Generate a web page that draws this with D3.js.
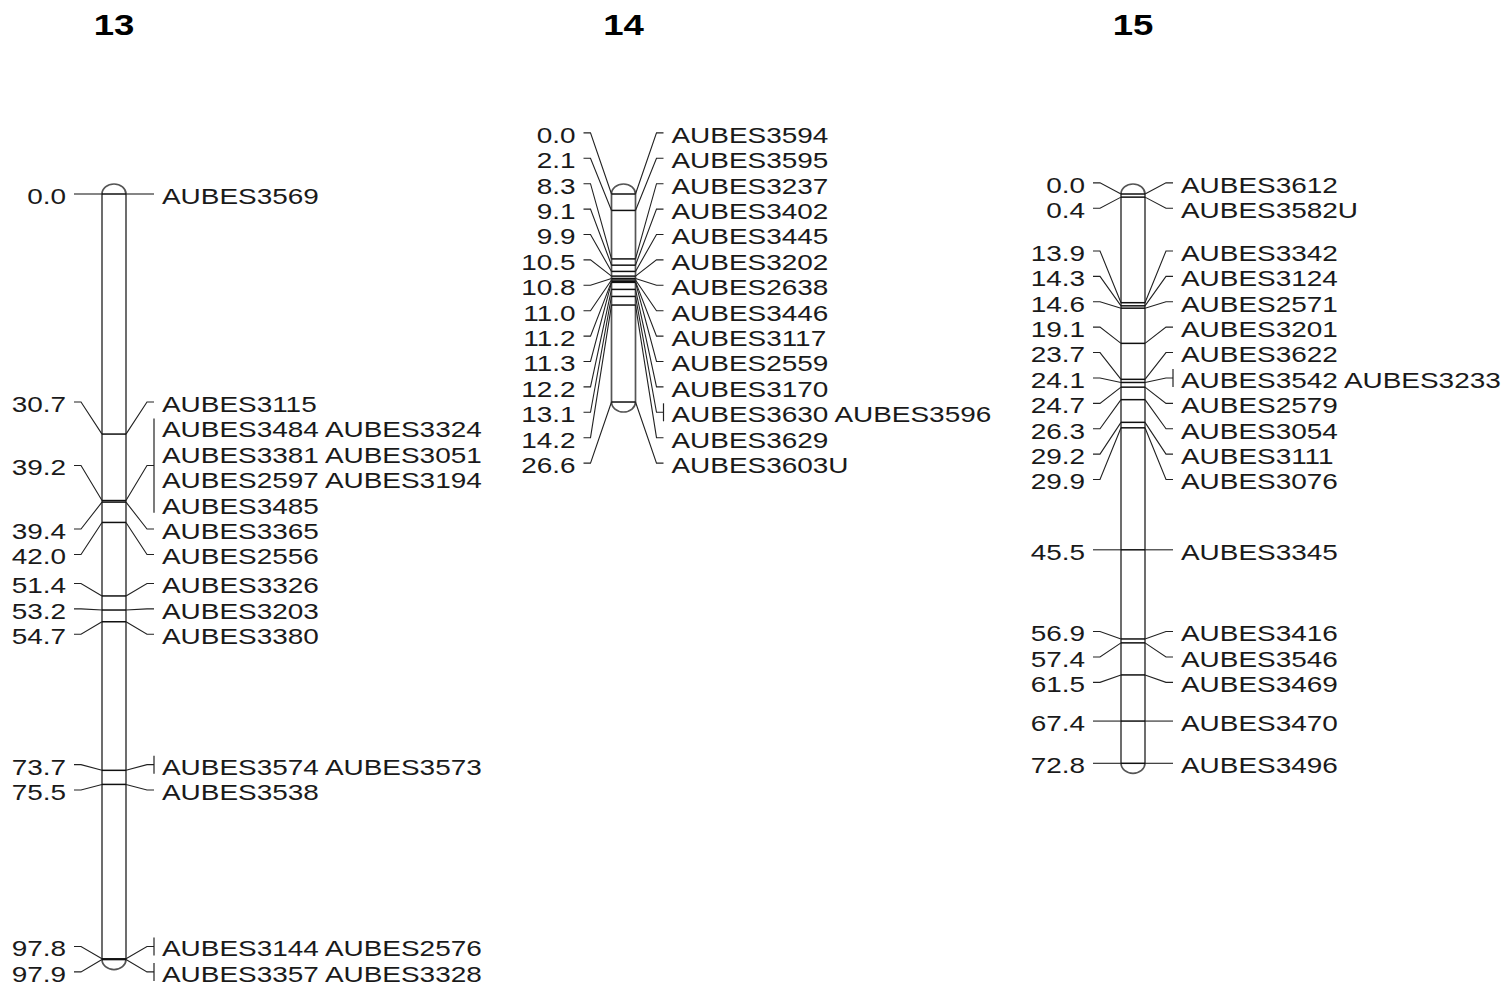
<!DOCTYPE html>
<html>
<head>
<meta charset="utf-8">
<script src="https://cdn.jsdelivr.net/npm/d3@7"></script>
<style>
  html, body { margin: 0; padding: 0; background: #fff; }
  svg { display: block; }
  text { font-family: "Liberation Sans", Arial, sans-serif; fill: #1a1a1a; }
</style>
</head>
<body>
<svg id="chart" width="1503" height="986"></svg>
<script>
// ---------------- DATA ----------------
const chromosomes = ["13", "14", "15"];

const chr13Positions = [0.0, 30.7, 39.2, 39.4, 42.0, 51.4, 53.2, 54.7, 73.7, 75.5, 97.8, 97.9];
const chr13Markers = [
  ["AUBES3569"],
  ["AUBES3115"],
  ["AUBES3484", "AUBES3324", "AUBES3381", "AUBES3051", "AUBES2597", "AUBES3194", "AUBES3485"],
  ["AUBES3365"],
  ["AUBES2556"],
  ["AUBES3326"],
  ["AUBES3203"],
  ["AUBES3380"],
  ["AUBES3574", "AUBES3573"],
  ["AUBES3538"],
  ["AUBES3144", "AUBES2576"],
  ["AUBES3357", "AUBES3328"]
];

const chr14Positions = [0.0, 2.1, 8.3, 9.1, 9.9, 10.5, 10.8, 11.0, 11.2, 11.3, 12.2, 13.1, 14.2, 26.6];
const chr14Markers = [
  ["AUBES3594"],
  ["AUBES3595"],
  ["AUBES3237"],
  ["AUBES3402"],
  ["AUBES3445"],
  ["AUBES3202"],
  ["AUBES2638"],
  ["AUBES3446"],
  ["AUBES3117"],
  ["AUBES2559"],
  ["AUBES3170"],
  ["AUBES3630", "AUBES3596"],
  ["AUBES3629"],
  ["AUBES3603U"]
];

const chr15Positions = [0.0, 0.4, 13.9, 14.3, 14.6, 19.1, 23.7, 24.1, 24.7, 26.3, 29.2, 29.9, 45.5, 56.9, 57.4, 61.5, 67.4, 72.8];
const chr15Markers = [
  ["AUBES3612"],
  ["AUBES3582U"],
  ["AUBES3342"],
  ["AUBES3124"],
  ["AUBES2571"],
  ["AUBES3201"],
  ["AUBES3622"],
  ["AUBES3542", "AUBES3233"],
  ["AUBES2579"],
  ["AUBES3054"],
  ["AUBES3111"],
  ["AUBES3076"],
  ["AUBES3345"],
  ["AUBES3416"],
  ["AUBES3546"],
  ["AUBES3469"],
  ["AUBES3470"],
  ["AUBES3496"]
];

const positionsList = [chr13Positions, chr14Positions, chr15Positions];
const markersList = [chr13Markers, chr14Markers, chr15Markers];

// ---------------- LAYOUT ----------------
const svg = d3.select("#chart");
const x = d3.scalePoint().domain(chromosomes).range([114, 1133]);
const y = d3.scaleLinear().domain([0, 100]).range([194, 194 + 782]);

const halfBar = 12, capRy = 10;
const stubIn = 33, stubOut = 40, textOff = 48;
const rowH = 25.4, perRow = 2;
const sx = 1.27, fontSize = 22, textDy = 2;

// title
svg.selectAll("text.title").data(chromosomes).join("text")
  .attr("class", "title")
  .attr("transform", d => `translate(${x(d)},35) scale(1.22,1)`)
  .attr("text-anchor", "middle")
  .style("font-weight", "bold")
  .style("font-size", "30px")
  .style("fill", "#000")
  .text(d => d);

// label layout: clusters of blocks, spread without overlap
function layout(positions, markers) {
  const loci = positions.map((p, i) => {
    const rows = [];
    for (let k = 0; k < markers[i].length; k += perRow) rows.push(markers[i].slice(k, k + perRow).join(" "));
    return { pos: p, ideal: y(p), rows, n: markers[i].length, h: rows.length * rowH };
  });
  let clusters = loci.map(l => ({ items: [l] }));
  function place(cl) {
    const H = d3.sum(cl.items, d => d.h);
    const c0 = cl.items[0].h / 2;
    const cL = H - cl.items[cl.items.length - 1].h / 2;
    const idealMid = (cl.items[0].ideal + cl.items[cl.items.length - 1].ideal) / 2;
    cl.top = idealMid - (c0 + cL) / 2;
    cl.H = H;
    let t = cl.top;
    cl.items.forEach(it => { it.top = t; it.center = t + it.h / 2; t += it.h; });
  }
  let merged = true;
  while (merged) {
    merged = false;
    clusters.forEach(place);
    for (let i = 0; i < clusters.length - 1; i++) {
      if (clusters[i].top + clusters[i].H > clusters[i + 1].top + 0.01) {
        clusters[i].items = clusters[i].items.concat(clusters[i + 1].items);
        clusters.splice(i + 1, 1);
        merged = true;
        break;
      }
    }
  }
  return loci;
}

chromosomes.forEach((name, ci) => {
  const c = x(name);
  const positions = positionsList[ci];
  const loci = layout(positions, markersList[ci]);
  const g = svg.append("g");
  const y0 = y(d3.min(positions)), y1 = y(d3.max(positions));

  // bar
  g.append("path")
    .attr("d", `M${c - halfBar},${y0} A${halfBar},${capRy} 0 0 1 ${c + halfBar},${y0} L${c + halfBar},${y1} A${halfBar},${capRy} 0 0 1 ${c - halfBar},${y1} Z`)
    .attr("fill", "#fff")
    .attr("stroke", "#555")
    .attr("stroke-width", 1.7);

  // marker lines across bar
  g.selectAll("line.m").data(loci).join("line")
    .attr("x1", c - halfBar).attr("x2", c + halfBar)
    .attr("y1", d => d.ideal).attr("y2", d => d.ideal)
    .attr("stroke", "#111").attr("stroke-width", 1.5);

  // connectors left
  g.selectAll("path.cl").data(loci).join("path")
    .attr("d", d => `M${c - stubOut},${d.center} L${c - stubIn},${d.center} L${c - halfBar},${d.ideal}`)
    .attr("fill", "none").attr("stroke", "#222").attr("stroke-width", 1.1);

  // connectors right
  g.selectAll("path.cr").data(loci).join("path")
    .attr("d", d => `M${c + halfBar},${d.ideal} L${c + stubIn},${d.center} L${c + stubOut},${d.center}`)
    .attr("fill", "none").attr("stroke", "#222").attr("stroke-width", 1.1);

  // brackets for grouped markers
  g.selectAll("line.br").data(loci.filter(d => d.n > 1)).join("line")
    .attr("x1", c + stubOut).attr("x2", c + stubOut)
    .attr("y1", d => d.top + rowH / 2 - 9)
    .attr("y2", d => d.top + d.h - rowH / 2 + 9)
    .attr("stroke", "#222").attr("stroke-width", 1.2);

  // left position labels
  g.selectAll("text.pos").data(loci).join("text")
    .attr("transform", d => `translate(${c - textOff},${d.center + textDy}) scale(${sx},1)`)
    .attr("text-anchor", "end")
    .attr("dy", "0.36em")
    .style("font-size", fontSize + "px")
    .text(d => d.pos.toFixed(1));

  // right marker labels
  const rowsData = loci.flatMap(d => d.rows.map((r, j) => ({ text: r, yc: d.top + (j + 0.5) * rowH })));
  g.selectAll("text.mk").data(rowsData).join("text")
    .attr("transform", d => `translate(${c + textOff},${d.yc + textDy}) scale(${sx},1)`)
    .attr("text-anchor", "start")
    .attr("dy", "0.36em")
    .style("font-size", fontSize + "px")
    .text(d => d.text);
});
</script>
</body>
</html>
